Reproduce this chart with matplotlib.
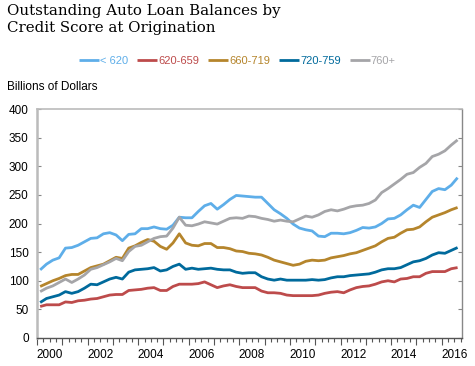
import matplotlib.pyplot as plt
import numpy as np

# quarterly data, 2000Q1 - 2016Q3 (billions of dollars)
start_year = 2000
labels = ["< 620", "620-659", "660-719", "720-759", "760+"]
colors = ["#5EAEE9", "#BD4B4B", "#B5852C", "#006A9C", "#A5A5A8"]

below_620 = [119, 129, 136, 140, 157, 158, 162, 168, 174, 175, 182, 184, 180, 170, 181, 182, 191,
             191, 194, 191, 190, 197, 211, 210, 210, 221, 231, 235, 225, 233, 242, 249, 248, 247,
             246, 246, 235, 224, 217, 209, 199, 192, 189, 187, 178, 177, 183, 183, 182, 184,
             188, 193, 192, 194, 200, 208, 209, 215, 224, 232, 228, 242, 256, 261, 259, 267, 280]
s620_659 = [55, 58, 58, 58, 63, 62, 65, 66, 68, 69, 72, 75, 76, 76, 83, 84, 85,
            87, 88, 83, 83, 90, 94, 94, 94, 95, 98, 93, 88, 91, 93, 90, 88, 88,
            88, 82, 79, 79, 78, 75, 74, 74, 74, 74, 75, 78, 80, 81, 79, 84,
            88, 90, 91, 94, 98, 100, 98, 103, 104, 107, 107, 113, 116, 116, 116, 121, 123]
s660_719 = [90, 95, 100, 104, 109, 111, 111, 117, 123, 126, 129, 135, 141, 139, 157, 161, 167,
            172, 169, 160, 155, 166, 182, 166, 162, 161, 165, 165, 158, 158, 156, 152, 151, 148,
            147, 145, 141, 136, 133, 130, 127, 129, 134, 136, 135, 136, 140, 142, 144, 147,
            149, 153, 157, 161, 168, 174, 176, 183, 189, 190, 194, 203, 211, 215, 219, 224, 228]
s720_759 = [62, 69, 72, 75, 81, 78, 81, 87, 94, 93, 98, 103, 106, 103, 115, 119, 120,
            121, 123, 117, 119, 125, 129, 120, 122, 120, 121, 122, 120, 119, 119, 115, 113, 114,
            114, 107, 103, 101, 103, 101, 101, 101, 101, 102, 101, 102, 105, 107, 107, 109,
            110, 111, 112, 115, 119, 121, 121, 123, 128, 133, 135, 139, 145, 149, 148, 153, 158]
s760_plus = [81, 87, 91, 97, 103, 97, 103, 110, 120, 123, 128, 133, 139, 135, 151, 160, 162,
             168, 174, 177, 178, 192, 211, 197, 196, 199, 203, 201, 199, 204, 209, 210, 209, 213,
             212, 209, 207, 204, 206, 204, 203, 208, 213, 211, 215, 221, 224, 222, 225, 229,
             231, 232, 235, 241, 254, 261, 269, 277, 286, 289, 298, 305, 317, 321, 327, 337, 346]

series = [below_620, s620_659, s660_719, s720_759, s760_plus]
year_labels = ["2000", "2002", "2004", "2006", "2008", "2010", "2012", "2014", "2016"]

# x positions: centre of each quarter
x = start_year + 0.125 + 0.25 * np.arange(len(below_620))

fig = plt.figure(figsize=(4.75, 3.66), dpi=100)
ax = fig.add_axes([37 / 475, 28 / 366, 425 / 475, 229 / 366])

for vals, lab, col in zip(series, labels, colors):
    ax.plot(x, vals, color=col, lw=2.0, label=lab, solid_capstyle="butt")

ax.set_xlim(2000, 2016.8)
ax.set_ylim(0, 400)
ax.set_yticks(range(0, 401, 50))

# x ticks: year boundaries + quarters, labels centred in the year
ax.set_xticks(np.arange(2000, 2017, 1))
ax.set_xticks(np.arange(2000, 2016.8, 0.25), minor=True)
ax.set_xticklabels([])
ax.tick_params(axis="x", which="major", direction="out", length=5, width=0.8, color="#555555")
ax.tick_params(axis="x", which="minor", direction="out", length=3, width=0.8, color="#555555")
for lab in year_labels:
    ax.text(int(lab) + 0.5, -0.075, lab, transform=ax.get_xaxis_transform(),
            ha="center", va="center", fontsize=8.5, family="Liberation Sans")

ax.tick_params(axis="y", direction="in", length=3, width=0.8, color="#888888",
               right=True, labelsize=8.5, pad=6)
for t in ax.get_yticklabels():
    t.set_family("Liberation Sans")

ax.spines["left"].set_color("#BBBBBB")
ax.spines["left"].set_linewidth(1.8)
ax.spines["top"].set_color("#BBBBBB")
ax.spines["top"].set_linewidth(1.2)
ax.spines["right"].set_color("#888888")
ax.spines["right"].set_linewidth(1.0)
ax.spines["bottom"].set_color("#555555")
ax.spines["bottom"].set_linewidth(1.0)

# title and axis unit
fig.text(7 / 475, 1 - 4 / 366, "Outstanding Auto Loan Balances by\nCredit Score at Origination",
         ha="left", va="top", fontsize=10.8, family="DejaVu Serif", linespacing=1.25)
fig.text(7 / 475, 1 - 87 / 366, "Billions of Dollars", ha="left", va="center",
         fontsize=8.5, family="Liberation Sans")

leg = fig.legend(loc="center", bbox_to_anchor=(0.5, 1 - 61 / 366), ncol=5, frameon=False,
                 handlelength=1.8, handletextpad=0.1, columnspacing=0.8,
                 prop={"family": "Liberation Sans", "size": 8})
for txt, col in zip(leg.get_texts(), colors):
    txt.set_color(col)

plt.savefig("out.png", dpi=100)
